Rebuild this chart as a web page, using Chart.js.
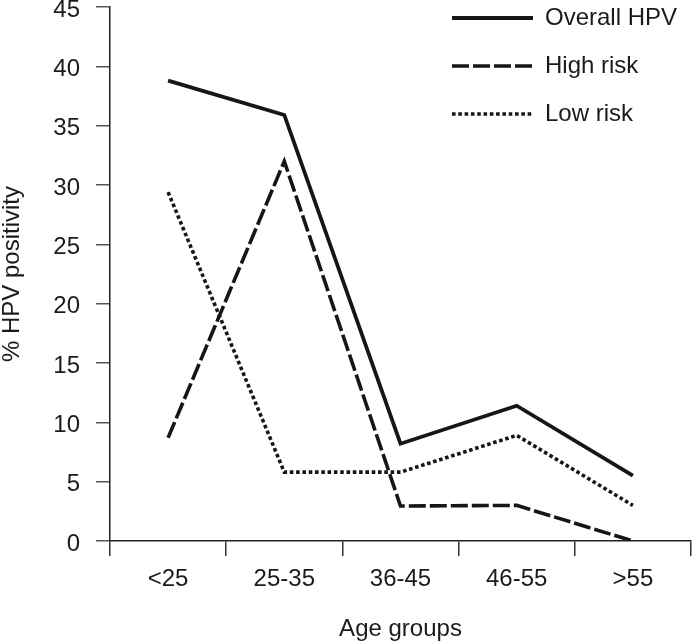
<!DOCTYPE html>
<html>
<head>
<meta charset="utf-8">
<script src="https://cdn.jsdelivr.net/npm/chart.js@4"></script>
<style>
  html, body { margin: 0; padding: 0; background: #fff; }
  canvas { display: block; }
</style>
</head>
<body>
<canvas id="chart" width="692" height="641"></canvas>
<script>
// data
const ageGroups = ['<25', '25-35', '36-45', '46-55', '>55']
const overallHpv = [38.8, 35.9, 8.2, 11.4, 5.5]
const highRisk = [8.7, 32.0, 2.95, 3.0, 0]
const lowRisk = [29.4, 5.8, 5.8, 8.9, 3.0]
const yTicks = [0, 5, 10, 15, 20, 25, 30, 35, 40, 45]

const textColor = '#1c1a1b'
const fontFamily = '"Liberation Sans", Arial, Helvetica, sans-serif'
Chart.defaults.font.family = fontFamily

// legend drawn inside the plot, top right, with line samples
const lineLegend = {
    id: 'lineLegend',
    afterDatasetsDraw(chart) {
        const ctx = chart.ctx
        ctx.save()
        chart.data.datasets.forEach((ds, i) => {
            const y = 18 + i * 48
            ctx.beginPath()
            ctx.setLineDash(ds.borderDash || [])
            ctx.lineWidth = ds.borderWidth
            ctx.strokeStyle = ds.borderColor
            ctx.moveTo(452, y)
            ctx.lineTo(533, y)
            ctx.stroke()
            ctx.setLineDash([])
            ctx.fillStyle = textColor
            ctx.font = '24px ' + fontFamily
            ctx.textBaseline = 'middle'
            ctx.fillText(ds.label, 545, y)
        })
        ctx.restore()
    }
}

const chart = document.querySelector('#chart').getContext('2d')

new Chart(chart, {
    type: 'line',
    data: {
        labels: ageGroups,
        datasets: [
            {
                label: 'Overall HPV',
                data: overallHpv,
                borderColor: '#161616',
                borderWidth: 3.8,
                pointRadius: 0
            },
            {
                label: 'High risk',
                data: highRisk,
                borderColor: '#161616',
                borderWidth: 3.6,
                borderDash: [17, 4],
                pointRadius: 0
            },
            {
                label: 'Low risk',
                data: lowRisk,
                borderColor: '#161616',
                borderWidth: 3.6,
                borderDash: [3.6, 2.7],
                pointRadius: 0
            }
        ]
    },
    options: {
        responsive: false,
        animation: false,
        devicePixelRatio: 1,
        layout: { padding: { top: 7, right: 1, left: 0, bottom: 0 } },
        plugins: {
            legend: { display: false },
            tooltip: { enabled: false }
        },
        scales: {
            x: {
                offset: true,
                grid: { offset: true, drawOnChartArea: false, tickLength: 15, tickColor: '#333', lineWidth: 1.5 },
                border: { color: '#222', width: 1.5 },
                ticks: { color: textColor, font: { size: 24 }, padding: 9, maxRotation: 0 },
                title: { display: true, text: 'Age groups', color: textColor, font: { size: 24, lineHeight: 1 }, padding: 0 },
                afterFit: s => { s.height = 100; s.paddingLeft = 0; s.paddingRight = 0 }
            },
            y: {
                min: 0,
                max: 45,
                afterBuildTicks: s => { s.ticks = yTicks.map(v => ({ value: v })) },
                grid: { drawOnChartArea: false, tickLength: 14, tickColor: '#555', lineWidth: 1.5 },
                border: { color: '#222', width: 1.5 },
                ticks: { color: textColor, font: { size: 24 }, padding: 16, labelOffset: 3 },
                title: { display: true, text: '% HPV positivity', color: textColor, font: { size: 24, lineHeight: 1 }, padding: 0 },
                afterFit: s => { s.width = 110; s.paddingTop = 0; s.paddingBottom = 0 }
            }
        }
    },
    plugins: [lineLegend]
})
</script>
</body>
</html>
